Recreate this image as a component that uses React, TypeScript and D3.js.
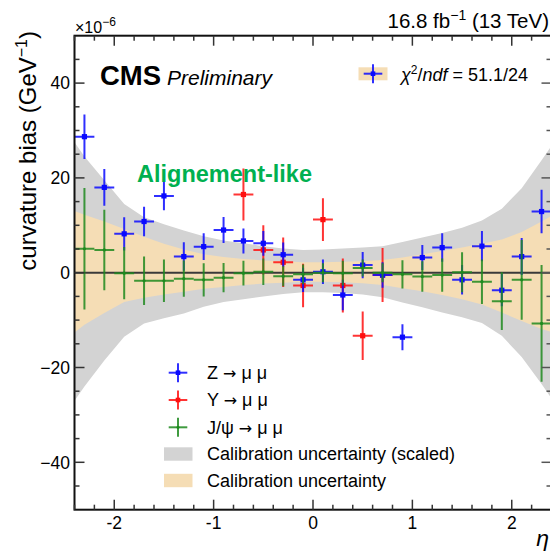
import React from 'react';
import * as d3 from 'd3';

// ---- data ----
const etaBins = [-2.3, -2.1, -1.9, -1.7, -1.5, -1.3, -1.1, -0.9, -0.7, -0.5, -0.3, -0.1,
  0.1, 0.3, 0.5, 0.7, 0.9, 1.1, 1.3, 1.5, 1.7, 1.9, 2.1, 2.3];
const binHalfWidth = 0.1;

const zVals = [28.7, 18.0, 8.2, 10.8, 16.2, 3.4, 5.5, 9.0, 6.7, 6.2, 3.8, -1.5,
  0.2, -4.7, 1.6, -0.5, -13.6, 3.2, 5.3, -1.5, 5.6, -3.7, 3.4, 12.9];
const zErrs = [4.7, 3.9, 3.5, 3.1, 3.0, 3.0, 2.8, 2.75, 2.65, 2.6, 2.55, 2.55,
  2.6, 3.2, 2.75, 2.7, 2.75, 2.65, 3.0, 3.1, 3.2, 3.4, 3.9, 4.6];

const upsEta = [-0.7, -0.5, -0.3, -0.1, 0.1, 0.3, 0.5, 0.7];
const upsVals = [16.5, 4.8, 2.2, -2.7, 11.2, -2.7, -13.3, -0.5];
const upsErrs = [5.5, 5.2, 5.2, 4.6, 4.5, 5.7, 5.1, 5.7];

const jpsiVals = [5.05, 4.8, -0.1, -1.7, -1.7, -1.25, -1.5, -1.05, -0.1, 0.2, -0.75, -0.35,
  0.0, -0.1, 1.0, 0.0, -0.35, -0.8, -0.5, 0.1, -1.9, -6.0, -1.5, -10.7];
const jpsiErrs = [12.8, 8.5, 5.5, 5.1, 4.5, 3.8, 3.5, 3.1, 2.6, 2.8, 2.1, 2.1,
  2.0, 2.6, 1.8, 2.0, 3.0, 3.2, 3.5, 4.2, 4.7, 6.1, 8.4, 12.3];

const bandEta = [-2.4, -2.3, -2.1, -1.9, -1.7, -1.5, -1.3, -1.1, -0.9, -0.7, -0.5, -0.3, -0.1,
  0.1, 0.3, 0.5, 0.7, 0.9, 1.1, 1.3, 1.5, 1.7, 1.9, 2.1, 2.3, 2.4];
const grayUpper = [27.5, 24.5, 19.5, 14.5, 11.7, 10.2, 8.9, 7.7, 6.8, 6.2, 5.6, 5.1, 4.8,
  4.9, 5.1, 5.3, 5.6, 6.5, 7.4, 8.4, 9.5, 11.0, 13.5, 17.8, 23.7, 26.8];
const grayLower = [-27.0, -24.0, -18.5, -13.5, -10.7, -9.6, -8.6, -7.2, -6.2, -5.6, -5.0, -4.5, -4.1,
  -4.1, -4.3, -4.6, -5.2, -6.3, -7.3, -8.4, -9.4, -10.6, -13.3, -17.8, -23.5, -26.5];
const orangeUpper = [13.0, 12.2, 10.8, 9.2, 7.6, 6.1, 4.9, 3.9, 3.3, 2.9, 2.6, 2.4, 2.2,
  2.2, 2.3, 2.4, 2.7, 3.2, 3.9, 4.6, 5.3, 6.1, 7.0, 8.6, 10.8, 12.0];
const orangeLower = [-12.6, -11.0, -8.5, -6.2, -5.3, -4.6, -4.0, -3.4, -3.0, -2.6, -2.3, -2.1, -1.9,
  -1.9, -2.0, -2.2, -2.6, -3.3, -3.9, -4.7, -5.6, -6.7, -8.4, -10.2, -11.9, -12.5];

const yMajorTicks = [-40, -20, 0, 20, 40];
const yTickLabels = ['\u221240', '\u221220', '0', '20', '40'];
const xMajorTicks = [-2, -1, 0, 1, 2];
const xTickLabels = ['-2', '-1', '0', '1', '2'];

// legend entries: [before arrow, after arrow] or plain text
const legendParts: [string, string | null][] = [
  ['Z ', ' \u03bc \u03bc'],
  ['\u03a5 ', ' \u03bc \u03bc'],
  ['J/\u03c8 ', ' \u03bc \u03bc'],
  ['Calibration uncertainty (scaled)', null],
  ['Calibration uncertainty', null],
];

// ---- style ----
const FONT = "'Liberation Sans', Arial, Helvetica, sans-serif";
const BLUE = '#0a0aff';
const RED = '#ff1010';
const GREEN = '#1e8a1e';
const GRAY = '#d3d3d3';
const ORANGE = '#f5ddb5';

export default function App() {
  const x = d3.scaleLinear().domain([-2.4, 2.4]).range([74.5, 551.5]);
  const y = d3.scaleLinear().domain([-50, 50]).range([509.7, 35.7]);
  const [x0, x1] = x.range();
  const [yb, yt] = y.range();

  const grayArea = d3.area<number>()
    .x((d) => x(d))
    .y0((_, i) => y(grayLower[i]))
    .y1((_, i) => y(grayUpper[i]));
  const orangeArea = d3.area<number>()
    .x((d) => x(d))
    .y0((_, i) => y(orangeLower[i]))
    .y1((_, i) => y(orangeUpper[i]));

  const yMinor = d3.range(-45, 50, 5).filter((v) => v % 20 !== 0);
  const xMinor = d3.range(-24, 25, 2).map((v) => v / 10).filter((v) => Math.abs(v - Math.round(v)) > 1e-6);

  const drawSeries = (etas: number[], vals: number[], errs: number[], color: string, marker: 'square' | 'dot', key: string) => (
    <g key={key}>
      {etas.map((e, i) => (
        <g key={i}>
          <line x1={x(e)} x2={x(e)} y1={y(vals[i] - errs[i])} y2={y(vals[i] + errs[i])} stroke={color} strokeWidth={2} strokeOpacity={0.85} />
          <line x1={x(e - binHalfWidth)} x2={x(e + binHalfWidth)} y1={y(vals[i])} y2={y(vals[i])} stroke={color} strokeWidth={2} strokeOpacity={0.85} />
          {marker === 'square'
            ? <rect x={x(e) - 2.6} y={y(vals[i]) - 2.6} width={5.2} height={5.2} fill={color} />
            : <circle cx={x(e)} cy={y(vals[i])} r={1.6} fill={color} />}
        </g>
      ))}
    </g>
  );

  const legendRows = [372.7, 400, 427.3, 454, 480.5];
  const legMx = 178;

  const crossMarker = (cx: number, cy: number, color: string, square: boolean, key: string) => (
    <g key={key}>
      <line x1={cx} x2={cx} y1={cy - 9.5} y2={cy + 9.5} stroke={color} strokeWidth={2} strokeOpacity={0.85} />
      <line x1={cx - 9.3} x2={cx + 9.3} y1={cy} y2={cy} stroke={color} strokeWidth={2} strokeOpacity={0.85} />
      {square ? <rect x={cx - 2.3} y={cy - 2.3} width={4.6} height={4.6} fill={color} /> : <circle cx={cx} cy={cy} r={1.5} fill={color} />}
    </g>
  );

  return (
    <svg width={550} height={551} style={{ position: 'absolute', left: 0, top: 0, background: '#fff' }} fontFamily={FONT}>
      <defs>
        <clipPath id="frameClip">
          <rect x={x0} y={yt} width={x1 - x0} height={yb - yt} />
        </clipPath>
      </defs>
      <rect x={0} y={0} width={550} height={551} fill="#fff" />

      <g clipPath="url(#frameClip)">
        <path d={grayArea(bandEta) || ''} fill={GRAY} />
        <path d={orangeArea(bandEta) || ''} fill={ORANGE} />
        <line x1={x0} x2={x1} y1={y(0)} y2={y(0)} stroke="#3a3a3a" strokeWidth={2} />
        {drawSeries(upsEta, upsVals, upsErrs, RED, 'square', 'ups')}
        {drawSeries(etaBins, zVals, zErrs, BLUE, 'square', 'z')}
        {drawSeries(etaBins, jpsiVals, jpsiErrs, GREEN, 'dot', 'jpsi')}
      </g>

      {/* frame */}
      <rect x={x0} y={yt} width={x1 - x0} height={yb - yt} fill="none" stroke="#111" strokeWidth={2} />

      {/* y ticks */}
      {yMajorTicks.map((v) => (
        <g key={'ym' + v}>
          <line x1={x0} x2={x0 + 10} y1={y(v)} y2={y(v)} stroke="#333" strokeWidth={1.5} />
          <line x1={x1} x2={x1 - 10} y1={y(v)} y2={y(v)} stroke="#555" strokeWidth={1.5} />
        </g>
      ))}
      {yMinor.map((v) => (
        <g key={'yn' + v}>
          <line x1={x0} x2={x0 + 5} y1={y(v)} y2={y(v)} stroke="#333" strokeWidth={1.5} />
          <line x1={x1} x2={x1 - 5} y1={y(v)} y2={y(v)} stroke="#555" strokeWidth={1.5} />
        </g>
      ))}
      {yMajorTicks.map((v, i) => (
        <text key={'yl' + v} x={x0 - 4.5} y={y(v)} dy="0.36em" textAnchor="end" fontSize={17.5} fill="#000">{yTickLabels[i]}</text>
      ))}

      {/* x ticks */}
      {xMajorTicks.map((v) => (
        <g key={'xm' + v}>
          <line x1={x(v)} x2={x(v)} y1={yb} y2={yb - 10} stroke="#333" strokeWidth={1.5} />
          <line x1={x(v)} x2={x(v)} y1={yt} y2={yt + 10} stroke="#333" strokeWidth={1.5} />
        </g>
      ))}
      {xMinor.map((v) => (
        <g key={'xn' + v}>
          <line x1={x(v)} x2={x(v)} y1={yb} y2={yb - 5} stroke="#333" strokeWidth={1.5} />
          <line x1={x(v)} x2={x(v)} y1={yt} y2={yt + 5} stroke="#333" strokeWidth={1.5} />
        </g>
      ))}
      {xMajorTicks.map((v, i) => (
        <text key={'xl' + v} x={x(v)} y={529} textAnchor="middle" fontSize={17.5} fill="#000">{xTickLabels[i]}</text>
      ))}

      {/* axis titles */}
      <text x={549} y={546} textAnchor="end" fontSize={23} fontStyle="italic" fill="#000">η</text>
      <text transform="translate(36,31) rotate(-90)" textAnchor="end" fontSize={24} fill="#000">
        curvature bias (GeV<tspan dy={-9} fontSize={16}>{'\u22121'}</tspan><tspan dy={9}>)</tspan>
      </text>

      {/* exponent */}
      <text x={75} y={33} fontSize={16} fill="#000">
        ×10<tspan dy={-7} fontSize={12}>{'\u22126'}</tspan>
      </text>

      {/* lumi */}
      <text x={549} y={28} textAnchor="end" fontSize={20.5} fill="#000">
        16.8 fb<tspan dy={-8} fontSize={14}>{'\u22121'}</tspan><tspan dy={8}> (13 TeV)</tspan>
      </text>

      {/* CMS label */}
      <text x={100} y={85} fontSize={27.5} fontWeight="bold" fill="#000">CMS</text>
      <text x={167} y={85} fontSize={21} fontStyle="italic" fill="#000">Preliminary</text>

      {/* top-right legend */}
      <rect x={358.5} y={67.3} width={29} height={13} fill={ORANGE} />
      {crossMarker(373, 73.7, BLUE, true, 'tl')}
      <text x={401} y={80.5} fontSize={18} fill="#000">
        <tspan fontStyle="italic">χ</tspan><tspan dy={-7} fontSize={12}>2</tspan><tspan dy={7}>/</tspan><tspan fontStyle="italic">ndf</tspan>{' = 51.1/24'}
      </text>

      {/* annotation */}
      <text x={137} y={182} fontSize={23.5} fontWeight="bold" fill="#00b050">Alignement-like</text>

      {/* bottom legend */}
      {crossMarker(legMx, legendRows[0], BLUE, true, 'l0')}
      {crossMarker(legMx, legendRows[1], RED, true, 'l1')}
      {crossMarker(legMx, legendRows[2], GREEN, false, 'l2')}
      <rect x={164} y={legendRows[3] - 6.7} width={28.5} height={13.4} fill={GRAY} />
      <rect x={164} y={legendRows[4] - 6.7} width={28.5} height={13.4} fill={ORANGE} />
      {legendParts.map(([a, b], i) => (
        <text key={'lg' + i} x={207} y={legendRows[i]} dy="0.36em" fontSize={18} fill="#000">
          {a}
          {b !== null && <tspan fontFamily="'DejaVu Sans', sans-serif" fontSize={16}>{'\u2192'}</tspan>}
          {b !== null && b}
        </text>
      ))}
    </svg>
  );
}
